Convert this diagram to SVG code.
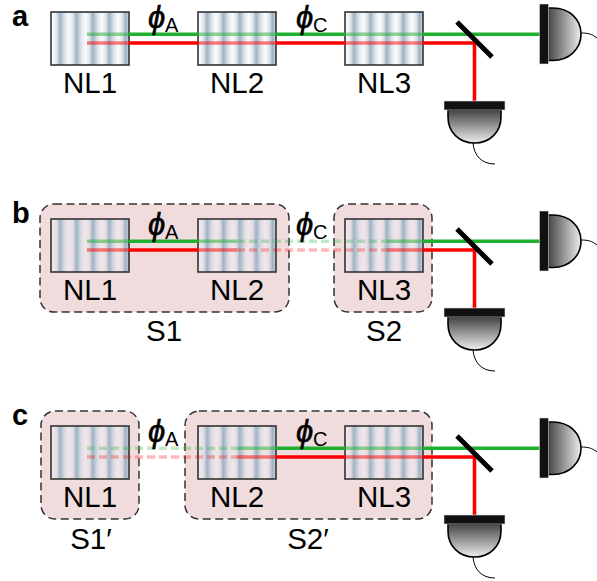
<svg xmlns="http://www.w3.org/2000/svg" xmlns:xlink="http://www.w3.org/1999/xlink" width="597" height="581" viewBox="0 0 597 581">
<style>
text{font-family:"Liberation Sans",Arial,sans-serif;fill:#000}
.lab{font-size:29.5px;text-anchor:middle}
.pan{font-size:29px;font-weight:bold}
.phi{font-size:31px;font-style:italic;stroke:#000;stroke-width:.6}
.sub{font-size:20px}
.xa{stroke:#333;stroke-width:1.6;fill:url(#sa)}
.xb{stroke:#333;stroke-width:1.6;fill:url(#sb)}
.box{fill:#f0dcdd;stroke:#333;stroke-width:1.5;stroke-dasharray:8 4.5}
.g{stroke:#1fb02f;stroke-width:3.6;fill:none}
.r{stroke:#fe0000;stroke-width:3.6;fill:none}
.m{opacity:.5}
.p{opacity:.28;stroke-dasharray:8 4}
.bar{fill:#111;stroke:#ddd;stroke-width:.6}
.dome{stroke:#000;stroke-width:1.6}
.tail{fill:none;stroke:#000;stroke-width:1}
.mir{stroke:#000;stroke-width:5}
</style>
<defs>
<linearGradient id="sa" gradientUnits="objectBoundingBox" x1="0.115" x2="0.325" spreadMethod="repeat"><stop offset="0" stop-color="#9fb3c4"/><stop offset=".3" stop-color="#dde5eb"/><stop offset=".55" stop-color="#fbfcfd"/><stop offset=".8" stop-color="#dde5eb"/><stop offset="1" stop-color="#9fb3c4"/></linearGradient>
<linearGradient id="sb" gradientUnits="objectBoundingBox" x1="0.115" x2="0.325" spreadMethod="repeat"><stop offset="0" stop-color="#9fb3c4"/><stop offset=".3" stop-color="#dcdde3"/><stop offset=".55" stop-color="#f3e6e9"/><stop offset=".8" stop-color="#e2dee4"/><stop offset="1" stop-color="#9fb3c4"/></linearGradient>
<linearGradient id="dr" x1="0" x2="1" y1="0" y2="0"><stop offset="0" stop-color="#444"/><stop offset="1" stop-color="#eee"/></linearGradient>
<linearGradient id="dd" x1="0" x2="0" y1="0" y2="1"><stop offset="0" stop-color="#444"/><stop offset="1" stop-color="#eee"/></linearGradient>
<g id="detR"><path class="tail" d="M581 33C588 33 592 34 597 38"/><path class="dome" fill="url(#dr)" d="M548 8H553C569 8 581 19 581 34C581 49 569 60.500 553 60.500H548Z"/><rect class="bar" x="539.500" y="4" width="9" height="60"/></g>
<g id="detB"><path class="tail" d="M473 143C474 155 481 164 495 164"/><path class="dome" fill="url(#dd)" d="M448 110V117C448 132 459 143 474.500 143C490 143 501 132 501 117V110Z"/><rect class="bar" x="444" y="101" width="61" height="9"/></g>
</defs>
<g id="backgrounds">
<rect id="S1" class="box" x="40" y="204" width="249" height="108" rx="14"/>
<rect id="S2" class="box" x="334" y="204" width="98" height="108" rx="14"/>
<rect id="S1p" class="box" x="41" y="411" width="98" height="108" rx="14"/>
<rect id="S2p" class="box" x="185" y="411" width="247" height="108" rx="14"/>
</g>
<g id="node-a-NL1"><rect class="xa" x="51" y="12" width="78" height="53"/><text class="lab" x="90" y="93">NL1</text></g>
<g id="node-a-NL2"><rect class="xa" x="198" y="12" width="78" height="53"/><text class="lab" x="237" y="93">NL2</text></g>
<g id="node-a-NL3"><rect class="xa" x="345" y="12" width="78" height="53"/><text class="lab" x="384" y="93">NL3</text></g>
<g id="node-b-NL1"><rect class="xb" x="51" y="219" width="78" height="53"/><text class="lab" x="90" y="300">NL1</text></g>
<g id="node-b-NL2"><rect class="xb" x="198" y="219" width="78" height="53"/><text class="lab" x="237" y="300">NL2</text></g>
<g id="node-b-NL3"><rect class="xb" x="345" y="219" width="78" height="53"/><text class="lab" x="384" y="300">NL3</text></g>
<g id="node-c-NL1"><rect class="xb" x="51" y="426" width="78" height="53"/><text class="lab" x="90" y="507">NL1</text></g>
<g id="node-c-NL2"><rect class="xb" x="198" y="426" width="78" height="53"/><text class="lab" x="237" y="507">NL2</text></g>
<g id="node-c-NL3"><rect class="xb" x="345" y="426" width="78" height="53"/><text class="lab" x="384" y="507">NL3</text></g>
<g id="connectors">
<path class="g m" d="M87 34.300H129M198 34.300H276M345 34.300H423"/>
<path class="r m" d="M87 43H129M198 43H276M345 43H423"/>
<path class="g" d="M129 34.300H198M276 34.300H345M423 34.300H540"/>
<path class="r" d="M129 43H198M276 43H345M423 43H474.500V102"/>
<path class="g m" d="M87 241.300H129M198 241.300H237M387 241.300H423"/>
<path class="r m" d="M87 250H129M198 250H237M387 250H423"/>
<path class="g" d="M129 241.300H198M423 241.300H540"/>
<path class="r" d="M129 250H198M423 250H474.500V309"/>
<path class="g p" d="M237 241.300H387"/>
<path class="r p" d="M237 250H387"/>
<path class="g p" d="M87 448.300H237"/>
<path class="r p" d="M87 457H237"/>
<path class="g m" d="M237 448.300H276M345 448.300H423"/>
<path class="r m" d="M237 457H276M345 457H423"/>
<path class="g" d="M276 448.300H345M423 448.300H540"/>
<path class="r" d="M276 457H345M423 457H474.500V516"/>
</g>
<g id="mirror-a"><path class="mir" d="M457 22L492 57"/></g>
<g id="mirror-b"><path class="mir" d="M457 229L492 264"/></g>
<g id="mirror-c"><path class="mir" d="M457 436L492 471"/></g>
<g id="det-a-r"><use xlink:href="#detR" href="#detR"/></g>
<g id="det-a-b"><use xlink:href="#detB" href="#detB"/></g>
<g id="det-b-r" transform="translate(0,207)"><use xlink:href="#detR" href="#detR"/></g>
<g id="det-b-b" transform="translate(0,207)"><use xlink:href="#detB" href="#detB"/></g>
<g id="det-c-r" transform="translate(0,414)"><use xlink:href="#detR" href="#detR"/></g>
<g id="det-c-b" transform="translate(0,414)"><use xlink:href="#detB" href="#detB"/></g>
<g id="labels">
<text class="pan" x="12" y="26">a</text>
<text class="pan" x="12" y="223">b</text>
<text class="pan" x="12" y="425">c</text>
<text class="phi" x="148" y="28">ϕ</text><text class="sub" x="165" y="32">A</text>
<text class="phi" x="296" y="28">ϕ</text><text class="sub" x="313" y="32">C</text>
<text class="phi" x="148" y="235">ϕ</text><text class="sub" x="165" y="239">A</text>
<text class="phi" x="296" y="235">ϕ</text><text class="sub" x="313" y="239">C</text>
<text class="phi" x="148" y="442">ϕ</text><text class="sub" x="165" y="446">A</text>
<text class="phi" x="296" y="442">ϕ</text><text class="sub" x="313" y="446">C</text>
<text class="lab" x="164" y="341">S1</text>
<text class="lab" x="384" y="341">S2</text>
<text class="lab" x="91" y="549">S1′</text>
<text class="lab" x="308" y="549">S2′</text>
</g>
</svg>
